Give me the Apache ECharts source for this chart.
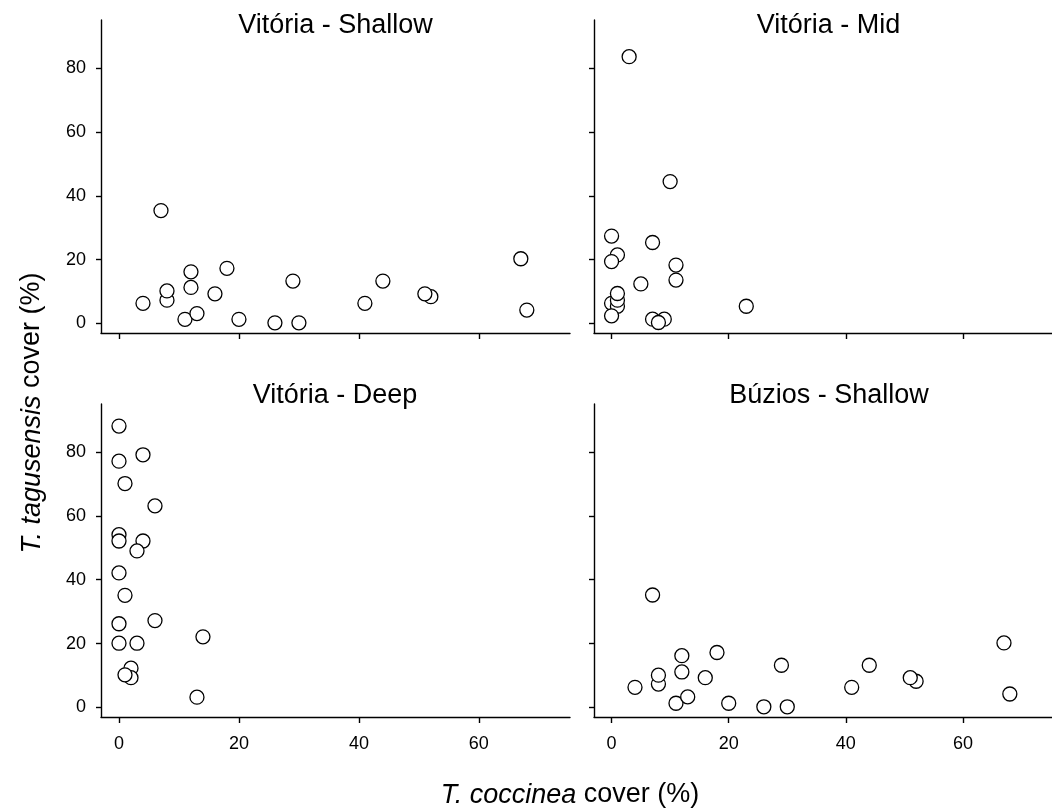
<!DOCTYPE html>
<html>
<head>
<meta charset="utf-8">
<script src="https://cdn.jsdelivr.net/npm/echarts@6/dist/echarts.min.js"></script>
<style>html,body{margin:0;padding:0;background:#fff}#c{width:1052px;height:812px}</style>
</head>
<body>
<div id="c"></div>
<script>
// ---- data ----
var panelTitles = ['Vitória - Shallow', 'Vitória - Mid', 'Vitória - Deep', 'Búzios - Shallow'];
var xTicks = [0, 20, 40, 60];
var yTicks = [0, 20, 40, 60, 80];

var vitShallowX = [4, 7, 8, 8, 11, 12, 12, 13, 16, 18, 20, 26, 29, 30, 41, 44, 52, 51, 67, 68];
var vitShallowY = [6.3, 35.4, 7.3, 10.2, 1.3, 16.2, 11.3, 3.1, 9.3, 17.3, 1.3, 0.2, 13.3, 0.2, 6.3, 13.3, 8.4, 9.3, 20.3, 4.2];

var vitMidX = [3, 10, 0, 7, 1, 0, 11, 11, 5, 0, 1, 1, 1, 0, 23, 7, 9, 8];
var vitMidY = [83.7, 44.5, 27.4, 25.4, 21.5, 19.4, 18.3, 13.6, 12.4, 6.3, 5.4, 7.3, 9.4, 2.4, 5.4, 1.35, 1.35, 0.3];

var vitDeepX = [0, 4, 0, 1, 6, 0, 0, 4, 3, 0, 1, 6, 0, 14, 0, 3, 2, 2, 1, 13];
var vitDeepY = [88.1, 79.1, 77.1, 70.1, 63.1, 54.1, 52.1, 52.1, 49.0, 42.1, 35.1, 27.2, 26.2, 22.1, 20.1, 20.1, 12.3, 9.3, 10.2, 3.2];

var buzShallowX = [4, 7, 8, 8, 11, 12, 12, 13, 16, 18, 20, 26, 29, 30, 41, 44, 52, 51, 67, 68];
var buzShallowY = [6.3, 35.2, 7.3, 10.1, 1.3, 16.2, 11.1, 3.3, 9.3, 17.2, 1.3, 0.2, 13.2, 0.2, 6.3, 13.2, 8.2, 9.3, 20.2, 4.2];

// ---- chart ----
var FONT = '"Liberation Sans", Arial, Helvetica, sans-serif';
function zip(xs, ys) { return xs.map(function (x, i) { return [x, ys[i]]; }); }

var grids = [
  {left: 101, top: 20, width: 469, height: 313},
  {left: 594, top: 20, width: 470, height: 313},
  {left: 101, top: 404, width: 469, height: 313},
  {left: 594, top: 404, width: 470, height: 313}
];
var yMax = [95.2, 95.2, 95, 95];
var lineStyle = {color: '#000', width: 1.4};

var xAxes = [], yAxes = [], series = [];
var datasets = [zip(vitShallowX, vitShallowY), zip(vitMidX, vitMidY), zip(vitDeepX, vitDeepY), zip(buzShallowX, buzShallowY)];
for (var i = 0; i < 4; i++) {
  xAxes.push({
    type: 'value', gridIndex: i, min: -3, max: 75.2,
    axisLine: {show: true, onZero: false, lineStyle: lineStyle},
    axisTick: {show: true, length: 6, customValues: xTicks, lineStyle: lineStyle},
    axisLabel: {show: i >= 2, customValues: xTicks, fontSize: 18, margin: 18, color: '#000', fontFamily: FONT},
    splitLine: {show: false}
  });
  yAxes.push({
    type: 'value', gridIndex: i, min: -3, max: yMax[i],
    axisLine: {show: true, onZero: false, lineStyle: lineStyle},
    axisTick: {show: true, length: 5, customValues: yTicks, lineStyle: lineStyle},
    axisLabel: {show: i % 2 === 0, customValues: yTicks, fontSize: 18, margin: 15, color: '#000', fontFamily: FONT},
    splitLine: {show: false}
  });
  series.push({
    type: 'scatter', xAxisIndex: i, yAxisIndex: i,
    data: datasets[i], symbol: 'circle', symbolSize: 14,
    itemStyle: {color: '#fff', borderColor: '#000', borderWidth: 1.3, opacity: 1},
    emphasis: {disabled: true}, animation: false
  });
}

var titlePos = [[335.5, 26], [828.5, 26], [335, 396], [829, 396]];
var graphics = titlePos.map(function (p, i) {
  return {type: 'text', x: p[0], y: p[1], style: {text: panelTitles[i], fontSize: 27, fontFamily: FONT, fill: '#000', align: 'center', verticalAlign: 'middle'}};
});
graphics.push({
  type: 'text', x: 570, y: 795,
  style: {text: '{i|T. coccinea} cover (%)', fontSize: 27, fontFamily: FONT, fill: '#000', align: 'center', verticalAlign: 'middle',
    rich: {i: {fontStyle: 'italic', fontSize: 27, fontFamily: FONT, fill: '#000'}}}
});
graphics.push({
  type: 'text', x: 32, y: 413, rotation: Math.PI / 2,
  style: {text: '{i|T. tagusensis} cover (%)', fontSize: 27, fontFamily: FONT, fill: '#000', align: 'center', verticalAlign: 'middle',
    rich: {i: {fontStyle: 'italic', fontSize: 27, fontFamily: FONT, fill: '#000'}}}
});

var chart = echarts.init(document.getElementById('c'), null, {renderer: 'canvas'});
chart.setOption({
  animation: false,
  backgroundColor: '#fff',
  grid: grids,
  xAxis: xAxes,
  yAxis: yAxes,
  series: series,
  graphic: graphics
});
</script>
</body>
</html>
